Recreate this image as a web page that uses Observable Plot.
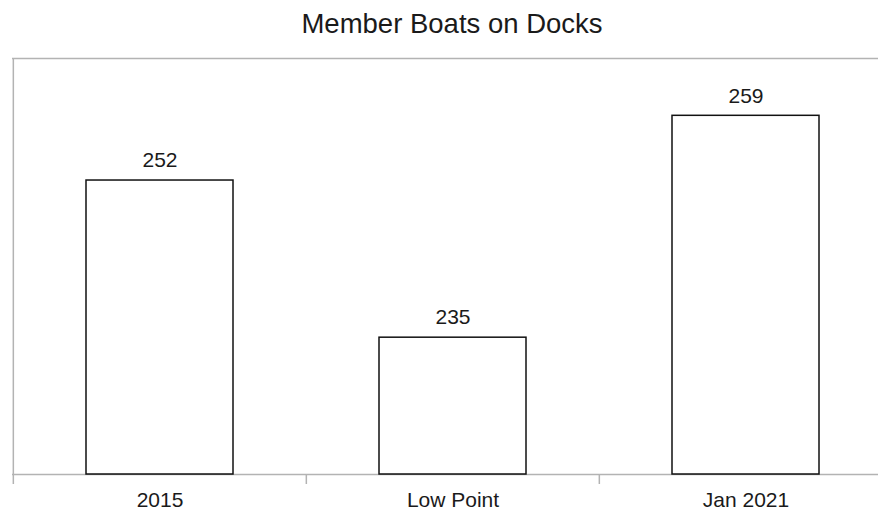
<!DOCTYPE html>
<html>
<head>
<meta charset="utf-8">
<script src="https://cdn.jsdelivr.net/npm/d3@7"></script>
<script src="https://cdn.jsdelivr.net/npm/@observablehq/plot@0.6"></script>
<style>
  html, body { margin: 0; padding: 0; background: #fff; width: 878px; height: 511px; overflow: hidden; }
  #title { box-sizing: border-box; width: 878px; height: 45px; padding-top: 8px; padding-left: 26px; text-align: center;
           font-family: "Liberation Sans", Arial, sans-serif; font-size: 27.5px; color: #1a1a1a; line-height: normal; white-space: nowrap; }
</style>
</head>
<body>
<div id="title">Member Boats on Docks</div>
<div id="chart"></div>
<script>
const categories = ["2015", "Low Point", "Jan 2021"];
const values = [252, 235, 259];
const yDomain = [220.2, 265.2];
const xRange = [12, 892];

const data = categories.map((c, i) => ({cat: c, value: values[i]}));
const halfStep = (xRange[1] - xRange[0]) / categories.length / 2;
const grid = "#b3b3b3";

const chart = Plot.plot({
  width: 878,
  height: 466,
  marginTop: 13,
  marginBottom: 37,
  marginLeft: 12,
  marginRight: 0,
  style: {fontFamily: "'Liberation Sans', Arial, sans-serif", fontSize: "21px", color: "#1a1a1a", background: "white"},
  x: {domain: categories, range: xRange, paddingInner: 0.5, paddingOuter: 0.25, label: null},
  y: {domain: yDomain, label: null, axis: null},
  marks: [
    Plot.ruleY([yDomain[1]], {stroke: grid, strokeWidth: 1.5}),
    Plot.ruleY([yDomain[0]], {stroke: grid, strokeWidth: 1.5}),
    Plot.ruleX([categories[0]], {dx: -halfStep, stroke: grid, strokeWidth: 1.5}),
    Plot.axisX({tickSize: 10, tickFormat: () => "", dx: -halfStep, stroke: grid, strokeWidth: 1.5}),
    Plot.axisX({tickSize: 10, tickPadding: 8, tickFormat: d => d, stroke: "none", fill: "#1a1a1a", fontSize: 21}),
    Plot.barY(data, {x: "cat", y1: yDomain[0], y2: "value", fill: "white", stroke: "#111", strokeWidth: 1.5}),
    Plot.text(data, {x: "cat", y: "value", text: d => String(d.value), dy: -20, fontSize: 21, fill: "#1a1a1a"})
  ]
});
document.getElementById("chart").appendChild(chart);
</script>
</body>
</html>
